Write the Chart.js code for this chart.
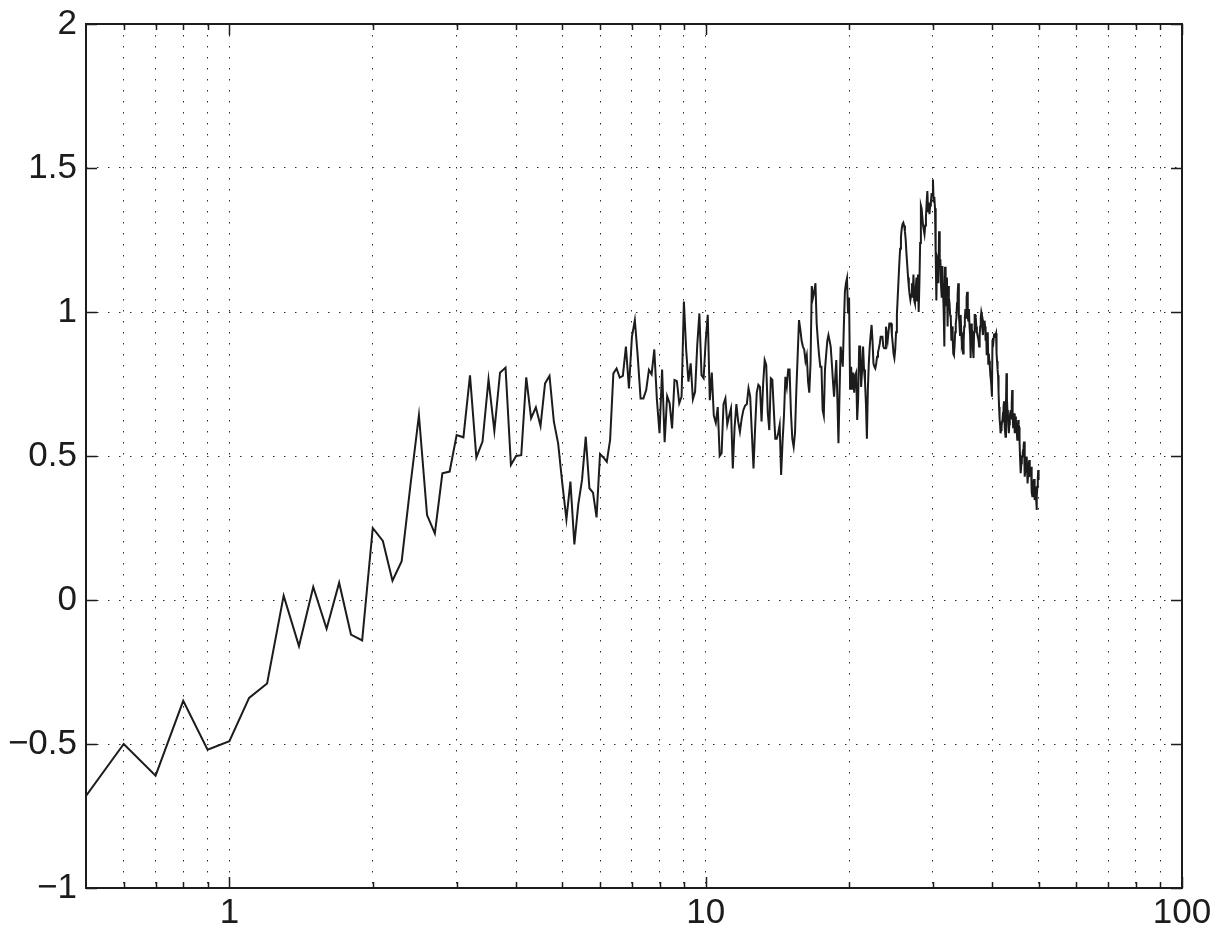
<!DOCTYPE html>
<html>
<head>
<meta charset="utf-8">
<script src="https://cdn.jsdelivr.net/npm/chart.js@4"></script>
<style>
  html, body { margin: 0; padding: 0; background: #ffffff; }
  #wrap { width: 1220px; height: 935px; }
</style>
</head>
<body>
<div id="wrap"><canvas id="c" width="1220" height="935"></canvas></div>
<script>
// ---- data: x runs from 0.5 to 50 in steps of 0.1 ----
const X_START = 0.5;
const X_STEP = 0.1;

const valuesBelow4 = [
  -0.68, -0.50, -0.61, -0.35, -0.52, -0.49,
  -0.34, -0.29, 0.015, -0.16, 0.045, -0.10, 0.06, -0.12, -0.14, 0.25,
  0.205, 0.067, 0.135, 0.40, 0.642, 0.295, 0.231, 0.44, 0.446, 0.573,
  0.565, 0.78, 0.495, 0.55, 0.766, 0.587, 0.789, 0.807, 0.469, 0.50
];
const values4to10 = [
  0.503, 0.773, 0.631, 0.669, 0.604, 0.752, 0.778, 0.619, 0.544, 0.405,
  0.28, 0.411, 0.193, 0.33, 0.417, 0.567, 0.388, 0.373, 0.287, 0.507,
  0.495, 0.48, 0.556, 0.787, 0.804, 0.772, 0.778, 0.88, 0.735, 0.914,
  0.972, 0.845, 0.70, 0.70, 0.729, 0.799, 0.784, 0.87, 0.694, 0.579,
  0.80, 0.548, 0.708, 0.683, 0.596, 0.764, 0.76, 0.683, 0.706, 1.036,
  0.868, 0.758, 0.822, 0.697, 0.723, 0.885, 0.995, 0.781, 0.77, 0.90
];
const values10to20 = [
  0.99, 0.694, 0.79, 0.64, 0.615, 0.67, 0.50, 0.51, 0.68, 0.70,
  0.61, 0.64, 0.665, 0.457, 0.60, 0.68, 0.62, 0.584, 0.63, 0.66,
  0.675, 0.68, 0.735, 0.706, 0.58, 0.457, 0.60, 0.72, 0.747, 0.74,
  0.62, 0.75, 0.833, 0.816, 0.65, 0.59, 0.77, 0.765, 0.66, 0.56,
  0.56, 0.58, 0.608, 0.434, 0.55, 0.64, 0.775, 0.741, 0.80, 0.80,
  0.65, 0.56, 0.532, 0.58, 0.73, 0.85, 0.972, 0.94, 0.90, 0.88,
  0.87, 0.83, 0.85, 0.76, 0.72, 0.82, 1.09, 1.05, 1.07, 1.10,
  0.96, 0.90, 0.85, 0.81, 0.81, 0.66, 0.64, 0.80, 0.85, 0.90,
  0.92, 0.90, 0.88, 0.822, 0.76, 0.706, 0.77, 0.833, 0.70, 0.544,
  0.72, 0.88, 0.85, 0.81, 0.95, 1.07, 1.10, 1.117, 0.995, 1.05
];
const values20to30 = [
  0.73, 0.81, 0.73, 0.79, 0.72, 0.78, 0.79, 0.625, 0.70, 0.88,
  0.88, 0.74, 0.80, 0.88, 0.80, 0.76, 0.68, 0.56, 0.73, 0.82,
  0.88, 0.92, 0.955, 0.90, 0.822, 0.81, 0.804, 0.82, 0.845, 0.86,
  0.874, 0.89, 0.914, 0.914, 0.914, 0.88, 0.874, 0.874, 0.949, 0.92,
  0.90, 0.93, 0.96, 0.96, 0.96, 0.92, 0.89, 0.855, 0.84, 0.87,
  0.93, 0.99, 1.05, 1.11, 1.17, 1.22, 1.26, 1.29, 1.305, 1.31,
  1.30, 1.28, 1.25, 1.20, 1.16, 1.12, 1.088, 1.06, 1.042, 1.06,
  1.10, 1.05, 1.13, 1.04, 1.03, 1.08, 1.12, 1.04, 1.13, 1.00,
  1.10, 1.24, 1.37, 1.36, 1.33, 1.30, 1.285, 1.27, 1.30, 1.33,
  1.38, 1.42, 1.35, 1.38, 1.34, 1.37, 1.38, 1.41, 1.41, 1.46
];
const values30to40 = [
  1.38, 1.40, 1.36, 1.20, 1.04, 1.19, 1.18, 1.10, 1.28, 1.18,
  1.18, 1.09, 1.05, 1.16, 1.07, 1.00, 0.88, 1.157, 1.02, 1.10,
  1.12, 0.95, 1.09, 1.05, 1.03, 0.99, 0.98, 0.90, 0.95, 0.91,
  0.855, 0.85, 0.88, 0.93, 0.96, 0.98, 1.03, 1.06, 1.10, 0.99,
  0.96, 0.92, 0.99, 0.93, 0.89, 0.90, 0.856, 0.90, 0.95, 0.98,
  1.01, 0.98, 1.05, 1.07, 0.98, 0.97, 1.01, 0.95, 0.92, 0.84,
  0.96, 0.94, 0.93, 0.87, 0.84, 0.93, 0.99, 0.99, 0.98, 0.95,
  0.93, 0.92, 0.91, 0.90, 0.88, 0.92, 0.95, 0.98, 1.00, 0.99,
  0.94, 0.92, 0.96, 0.95, 0.97, 0.95, 0.90, 0.93, 0.85, 0.92,
  0.93, 0.82, 0.856, 0.83, 0.81, 0.78, 0.764, 0.74, 0.706, 0.90
];
const values40to50 = [
  0.91, 0.90, 0.92, 0.926, 0.914, 0.92, 0.926, 0.856, 0.83, 0.80,
  0.78, 0.72, 0.67, 0.63, 0.61, 0.579, 0.59, 0.60, 0.62, 0.63,
  0.65, 0.67, 0.69, 0.68, 0.60, 0.567, 0.68, 0.787, 0.70, 0.66,
  0.63, 0.60, 0.579, 0.61, 0.637, 0.65, 0.66, 0.63, 0.68, 0.729,
  0.65, 0.60, 0.62, 0.648, 0.60, 0.579, 0.637, 0.62, 0.60, 0.58,
  0.556, 0.59, 0.625, 0.61, 0.60, 0.55, 0.498, 0.47, 0.44, 0.475,
  0.49, 0.50, 0.51, 0.521, 0.535, 0.55, 0.48, 0.428, 0.45, 0.475,
  0.49, 0.498, 0.45, 0.405, 0.43, 0.451, 0.47, 0.486, 0.428, 0.44,
  0.45, 0.463, 0.394, 0.375, 0.36, 0.37, 0.394, 0.41, 0.42, 0.40,
  0.347, 0.37, 0.394, 0.35, 0.3125, 0.36, 0.394, 0.42, 0.451, 0.417
];

const X_TICKS = [0.6, 0.7, 0.8, 0.9, 1, 2, 3, 4, 5, 6, 7, 8, 9, 10, 20, 30, 40, 50, 60, 70, 80, 90, 100];
const X_LABELED = [1, 10, 100];
const Y_TICKS = [-1, -0.5, 0, 0.5, 1, 1.5, 2];

const seriesValues = [].concat(valuesBelow4, values4to10, values10to20, values20to30, values30to40, values40to50);
const points = seriesValues.map((v, i) => ({ x: +(X_START + i * X_STEP).toFixed(1), y: v }));

const FONT = '"Liberation Sans", Arial, Helvetica, sans-serif';
const INK = '#1c1c1c';

const paintBg = {
  id: 'paintBg',
  beforeDraw(chart) {
    const ctx = chart.ctx;
    ctx.save();
    ctx.fillStyle = '#ffffff';
    ctx.fillRect(0, 0, chart.width, chart.height);
    ctx.restore();
  }
};

const frameTicks = {
  id: 'frameTicks',
  afterDraw(chart) {
    const { ctx, chartArea: a, scales } = chart;
    const xs = scales.x, ys = scales.y;
    ctx.save();
    ctx.strokeStyle = INK;
    ctx.lineWidth = 1.5;
    ctx.beginPath();
    X_TICKS.forEach(v => {
      const px = Math.round(xs.getPixelForValue(v)) + 0.5;
      const len = X_LABELED.includes(v) ? 11 : 6;
      ctx.moveTo(px, a.bottom); ctx.lineTo(px, a.bottom - len);
      ctx.moveTo(px, a.top); ctx.lineTo(px, a.top + len);
    });
    Y_TICKS.forEach(v => {
      const py = Math.round(ys.getPixelForValue(v)) + 0.5;
      ctx.moveTo(a.left, py); ctx.lineTo(a.left + 11, py);
      ctx.moveTo(a.right, py); ctx.lineTo(a.right - 11, py);
    });
    ctx.stroke();
    ctx.lineWidth = 2;
    ctx.strokeRect(a.left, a.top, a.right - a.left, a.bottom - a.top);
    ctx.restore();
  }
};

new Chart(document.getElementById('c'), {
  type: 'line',
  data: {
    datasets: [{
      data: points,
      borderColor: INK,
      borderWidth: 2,
      pointRadius: 0,
      pointHoverRadius: 0,
      tension: 0,
      fill: false
    }]
  },
  options: {
    responsive: false,
    animation: false,
    devicePixelRatio: 1,
    layout: { padding: { top: 24, right: 38, left: 0, bottom: 0 } },
    plugins: { legend: { display: false }, tooltip: { enabled: false } },
    events: [],
    scales: {
      x: {
        type: 'logarithmic',
        min: 0.5,
        max: 100,
        afterBuildTicks: s => { s.ticks = X_TICKS.map(v => ({ value: v })); },
        afterFit: s => { s.height = 47; s.paddingLeft = 0; s.paddingRight = 0; },
        ticks: {
          autoSkip: false,
          maxRotation: 0,
          minRotation: 0,
          padding: 4,
          color: INK,
          font: { family: FONT, size: 35 },
          callback: v => X_LABELED.includes(v) ? String(v) : ''
        },
        grid: { color: '#2a2a2a', lineWidth: 1, drawTicks: false },
        border: { display: false, dash: [1.5, 9.5] }
      },
      y: {
        type: 'linear',
        min: -1,
        max: 2,
        afterBuildTicks: s => { s.ticks = Y_TICKS.map(v => ({ value: v })); },
        afterFit: s => { s.width = 86; s.paddingTop = 0; s.paddingBottom = 0; },
        ticks: {
          padding: 9,
          color: INK,
          font: { family: FONT, size: 35 },
          callback: v => (v < 0 ? '\u2212' + String(Math.abs(v)) : String(v))
        },
        grid: { color: '#2a2a2a', lineWidth: 1, drawTicks: false },
        border: { display: false, dash: [1.5, 9.5] }
      }
    }
  },
  plugins: [paintBg, frameTicks]
});
</script>
</body>
</html>
